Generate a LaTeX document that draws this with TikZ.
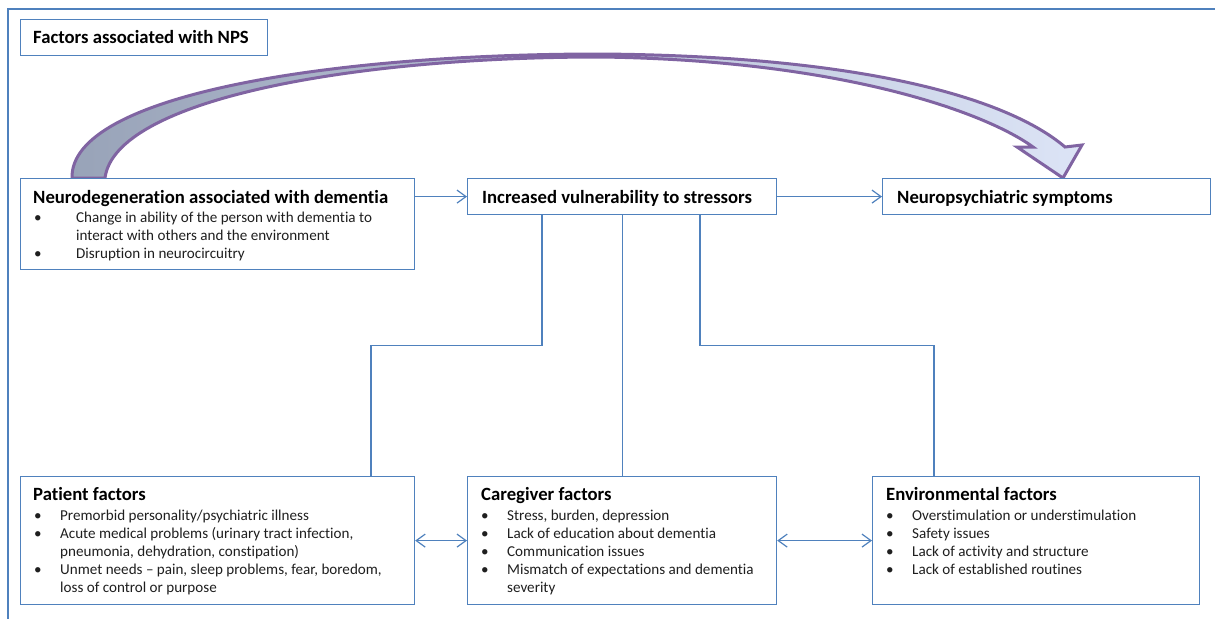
\documentclass[tikz,border=0pt]{standalone}
\usepackage{fontspec}
\setmainfont{Carlito}[Ligatures={NoCommon,NoContextual}]
\usetikzlibrary{arrows.meta}
\definecolor{boxblue}{HTML}{4F81BD}
\definecolor{arrowpurple}{HTML}{8064A2}
\definecolor{shadeL}{HTML}{98A3B8}
\definecolor{shadeR}{HTML}{DCE4F6}
\newcommand\bul[1]{\makebox[#1][l]{\textbullet}}
\begin{document}
\begin{tikzpicture}[x=1pt,y=-1pt,
  fbox/.style={draw=boxblue,line width=1.2pt,fill=white,anchor=north west,inner sep=0pt},
  headT/.style={anchor=base west,inner sep=0pt,font=\fontsize{18.7}{22}\selectfont\bfseries},
  bodyT/.style={anchor=base west,inner sep=0pt,font=\fontsize{15.1}{18}\selectfont,text=black!88},
  conn/.style={draw=boxblue,line width=1.2pt},
  tip/.style={-{Straight Barb[length=9pt,width=13pt]}},
  dtip/.style={{Straight Barb[length=9pt,width=13pt]}-{Straight Barb[length=9pt,width=13pt]}},
  bigarrow/.style={draw=arrowpurple,line width=3pt,line join=miter,left color=shadeL,right color=shadeR},
  frame/.style={draw=boxblue,line width=2.2pt}]
\useasboundingbox (0,0) rectangle (1215,619);
% outer frame
\draw[frame] (1215,9) -- (8,9) -- (8,619);
% big curved arrow
\draw[bigarrow] (72,178) .. controls (70,95) and (330,54) .. (600,54)
  .. controls (870,56) and (1010,100) .. (1065,147) -- (1082,145) -- (1063,178)
  -- (1017,147) -- (1033,147) .. controls (985,112) and (840,60) .. (600,57)
  .. controls (350,57) and (115,100) .. (105,178) -- cycle;
% boxes
\node[fbox,minimum width=247pt,minimum height=36pt] (title) at (20,19) {};
\node[fbox,minimum width=394pt,minimum height=91pt] (neuro) at (20,178) {};
\node[fbox,minimum width=309pt,minimum height=36pt] (incr) at (467,178) {};
\node[fbox,minimum width=328pt,minimum height=36pt] (nps) at (882,178) {};
\node[fbox,minimum width=394pt,minimum height=128pt] (patient) at (20,476) {};
\node[fbox,minimum width=309pt,minimum height=128pt] (care) at (467,476) {};
\node[fbox,minimum width=327pt,minimum height=128pt] (env) at (872,476) {};
% texts
\node[headT] (titleT) at (33,43) {Factors associated with NPS};
\node[headT] (neuroH) at (33,203) {Neurodegeneration associated with dementia};
\node[bodyT] (neuro1) at (34,222) {\bul{42pt}Change in ability of the person with dementia to};
\node[bodyT] (neuro2) at (76,240) {interact with others and the environment};
\node[bodyT] (neuro3) at (34,258) {\bul{42pt}Disruption in neurocircuitry};
\node[headT] (incrT) at (482,203) {Increased vulnerability to stressors};
\node[headT] (npsT) at (897,203) {Neuropsychiatric symptoms};
\node[headT] (patH) at (33,500) {Patient factors};
\node[bodyT] (pat1) at (34,520) {\bul{26pt}Premorbid personality/psychiatric illness};
\node[bodyT] (pat2) at (34,538) {\bul{26pt}Acute medical problems (urinary tract infection,};
\node[bodyT] (pat3) at (60,556) {pneumonia, dehydration, constipation)};
\node[bodyT] (pat4) at (34,574) {\bul{26pt}Unmet needs -- pain, sleep problems, fear, boredom,};
\node[bodyT] (pat5) at (60,592) {loss of control or purpose};
\node[headT] (careH) at (481,500) {Caregiver factors};
\node[bodyT] (care1) at (481,520) {\bul{26pt}Stress, burden, depression};
\node[bodyT] (care2) at (481,538) {\bul{26pt}Lack of education about dementia};
\node[bodyT] (care3) at (481,556) {\bul{26pt}Communication issues};
\node[bodyT] (care4) at (481,574) {\bul{26pt}Mismatch of expectations and dementia};
\node[bodyT] (care5) at (507,592) {severity};
\node[headT] (envH) at (886,500) {Environmental factors};
\node[bodyT] (env1) at (886,520) {\bul{26pt}Overstimulation or understimulation};
\node[bodyT] (env2) at (886,538) {\bul{26pt}Safety issues};
\node[bodyT] (env3) at (886,556) {\bul{26pt}Lack of activity and structure};
\node[bodyT] (env4) at (886,574) {\bul{26pt}Lack of established routines};
% connectors
\draw[conn,tip] (neuro.east |- incr.west) -- (incr.west);
\draw[conn,tip] (incr.east) -- (nps.west);
\draw[conn] ([xshift=75pt]incr.south west) -- ++(0,130) -| ([xshift=351pt]patient.north west);
\draw[conn] (incr.south) -- (care.north);
\draw[conn] ([xshift=233pt]incr.south west) -- ++(0,130) -| ([xshift=62pt]env.north west);
\draw[conn,dtip] (patient.east) -- (care.west);
\draw[conn,dtip] (care.east) -- (env.west);
\end{tikzpicture}
\end{document}
